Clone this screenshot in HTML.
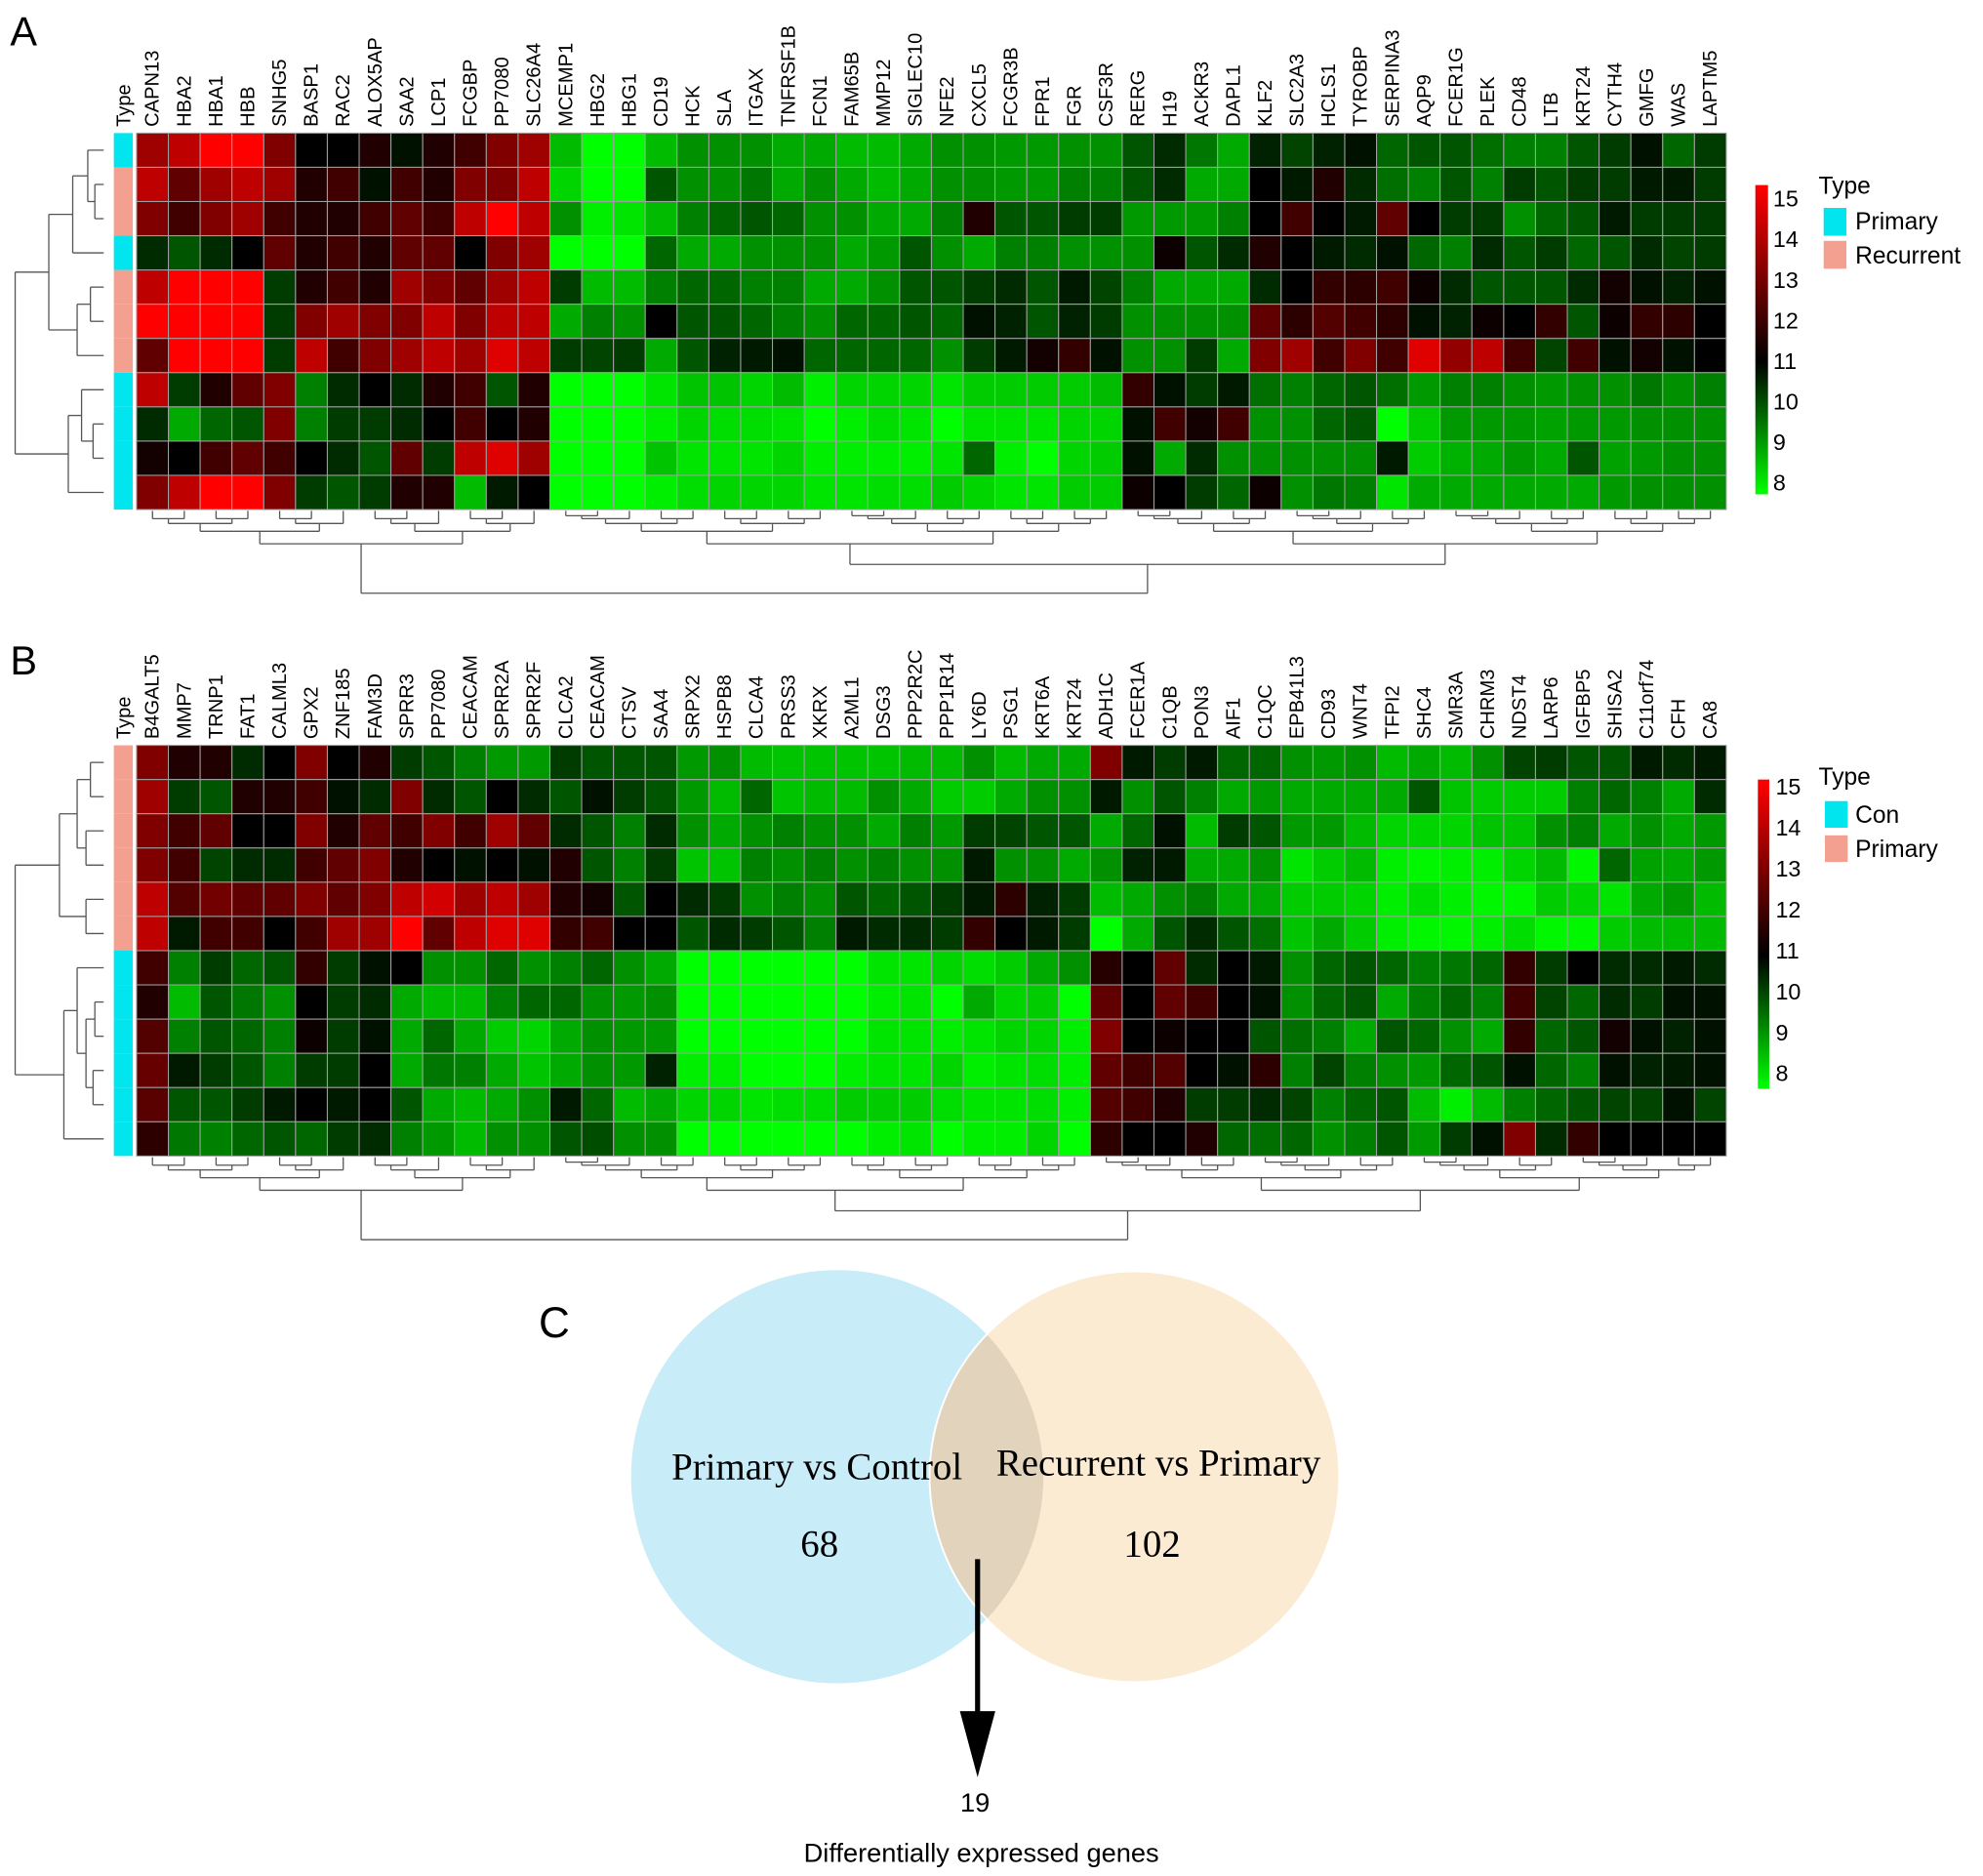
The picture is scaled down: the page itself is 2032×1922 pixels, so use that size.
<!DOCTYPE html>
<html><head><meta charset="utf-8"><style>
html,body{margin:0;padding:0;background:#fff}
svg{display:block}
text{font-family:"Liberation Sans",sans-serif}
</style></head><body>
<svg id="fig" xmlns="http://www.w3.org/2000/svg" width="2032" height="1922" viewBox="0 0 1568 1480" preserveAspectRatio="none">
<defs>
<linearGradient id="cbar" x1="0" y1="0" x2="0" y2="1">
<stop offset="0" stop-color="#ff0000"/><stop offset="0.57" stop-color="#000000"/><stop offset="1" stop-color="#00ff00"/>
</linearGradient>
<clipPath id="clipL"><circle cx="662" cy="1165" r="163"/></clipPath>
</defs>
<text x="8" y="36" font-size="32">A</text>
<text x="8" y="532" font-size="32">B</text>
<g id="gA"></g>
<g id="gB"></g>
<rect x="1388" y="146" width="10" height="244" fill="url(#cbar)"/>
<g font-size="18" id="cbA"></g>
<text x="1438" y="153" font-size="19">Type</text>
<rect x="1442" y="164" width="18" height="22" fill="#00e5ee"/>
<text x="1467" y="181" font-size="19">Primary</text>
<rect x="1442" y="190" width="18" height="22" fill="#f4a090"/>
<text x="1467" y="208" font-size="19">Recurrent</text>
<rect x="1390" y="615" width="9" height="244" fill="url(#cbar)"/>
<g font-size="18" id="cbB"></g>
<text x="1438" y="619" font-size="19">Type</text>
<rect x="1443" y="632" width="18" height="21" fill="#00e5ee"/>
<text x="1467" y="649" font-size="19">Con</text>
<rect x="1443" y="659" width="18" height="21" fill="#f4a090"/>
<text x="1467" y="676" font-size="19">Primary</text>
<text x="426" y="1055" font-size="34">C</text>
<g>
<circle cx="662" cy="1165" r="163" fill="#c8ecf8"/>
<circle cx="897" cy="1165" r="162" fill="#fcebd3"/>
<circle cx="897" cy="1165" r="162" fill="#e2d3bd" clip-path="url(#clipL)"/>
<circle cx="897" cy="1165" r="162" fill="none" stroke="#fff" stroke-width="1.5"/>
</g>
<text x="646" y="1167" font-size="30" text-anchor="middle" style="font-family:'Liberation Serif',serif">Primary vs Control</text>
<text x="916" y="1164" font-size="30" text-anchor="middle" style="font-family:'Liberation Serif',serif">Recurrent vs Primary</text>
<text x="648" y="1228" font-size="30" text-anchor="middle" style="font-family:'Liberation Serif',serif">68</text>
<text x="911" y="1228" font-size="30" text-anchor="middle" style="font-family:'Liberation Serif',serif">102</text>
<line x1="773" y1="1230" x2="773" y2="1360" stroke="#000" stroke-width="4"/>
<polygon points="759,1350 787,1350 773,1402" fill="#000"/>
<text x="771" y="1429" font-size="21" text-anchor="middle">19</text>
<text x="776" y="1469" font-size="21" text-anchor="middle">Differentially expressed genes</text>
</svg>
<script>
const genesA = ["CAPN13","HBA2","HBA1","HBB","SNHG5","BASP1","RAC2","ALOX5AP","SAA2","LCP1","FCGBP","PP7080","SLC26A4","MCEMP1","HBG2","HBG1","CD19","HCK","SLA","ITGAX","TNFRSF1B","FCN1","FAM65B","MMP12","SIGLEC10","NFE2","CXCL5","FCGR3B","FPR1","FGR","CSF3R","RERG","H19","ACKR3","DAPL1","KLF2","SLC2A3","HCLS1","TYROBP","SERPINA3","AQP9","FCER1G","PLEK","CD48","LTB","KRT24","CYTH4","GMFG","WAS","LAPTM5"];
const genesB = ["B4GALT5","MMP7","TRNP1","FAT1","CALML3","GPX2","ZNF185","FAM3D","SPRR3","PP7080","CEACAM","SPRR2A","SPRR2F","CLCA2","CEACAM","CTSV","SAA4","SRPX2","HSPB8","CLCA4","PRSS3","XKRX","A2ML1","DSG3","PPP2R2C","PPP1R14","LY6D","PSG1","KRT6A","KRT24","ADH1C","FCER1A","C1QB","PON3","AIF1","C1QC","EPB41L3","CD93","WNT4","TFPI2","SHC4","SMR3A","CHRM3","NDST4","LARP6","IGFBP5","SHISA2","C11orf74","CFH","CA8"];
const typesA = ["P","R","R","P","R","R","R","P","P","P","P"];
const typesB = ["R","R","R","R","R","R","C","C","C","C","C","C"];
const colorbarTicks = [15,14,13,12,11,10,9,8];
const valsA_left = [
[13.5,14,15,15,13,11,11,11.5,10.8,11.5,12,13,13.5],
[14,12.5,13.5,14,13.5,11.5,12,10.8,12,11.5,13,13,14],
[13,12,13,13.5,12,11.5,11.5,12,12.5,12,14,15,14],
[10.5,10,10.5,11,12.5,11.5,12,11.5,12.5,12.5,11,13,13.5],
[14,15,15,15,10.3,11.5,12,11.5,13.5,13,12.5,13.5,14],
[15,15,15,15,10.3,13,13.5,13,13,14,13,14,14],
[12.5,15,15,15,10.3,14,12,13,13.5,14,13.5,14.5,14],
[14,10.3,11.5,12.5,13,9.5,10.5,11,10.5,11.5,12,10,11.5],
[10.5,9,9.8,10,13,9.5,10.3,10.3,10.5,11,12,11,11.5],
[11.3,11,12,12.5,12,11,10.5,10,12.5,10.3,14,14.5,13.5],
[13,14,15,15,13,10.3,10,10.3,11.5,11.5,8.8,10.7,11]];
const valsA_mid = [
[8.8,8,8,8.8,9.3,9.3,9.3,9,9,8.8,8.8,9],
[8.5,8,8,10,9.3,9.3,9.6,9,9.3,9,8.8,9],
[9.3,8.2,8.3,8.8,9.5,9.8,10,9.8,9.3,9.3,9,9],
[8,8,8,9.8,9,9,9.3,9.3,9.3,9,9.2,10],
[10.3,8.8,8.8,9.5,9.8,9.8,9.5,9.5,9,9,9.3,10],
[9,9.5,9.3,11,10,10,9.8,9.5,9.3,9.8,9.8,10],
[10.3,10.2,10.3,9,10,10.6,10.7,10.8,9.8,9.8,9.8,9.8],
[8,8,8,8.3,8.7,8.7,8.5,8.8,8.2,8.5,8.5,8.5],
[8,8,8,8.2,8.5,8.4,8.4,8.3,8,8.2,8.4,8.3],
[8,8,8,8.7,8.3,8.3,8.3,8.5,8.2,8.2,8.2,8.2],
[8,8,8,8.2,8.4,8.5,8.5,8.5,8.3,8.3,8.4,8.4]];
const valsA_right = [
[9.3,9.3,9.2,9.2,9.3,9.3,10,10.5,9.6,9,10.6,10.2,10.6,10.8,9.8,10,10,9.7,9.5,9.5,10,10.3,10.8,9.8,10.3],
[9.3,9.3,9.2,9.2,9.5,9.5,10,10.5,9,9,11,10.7,11.5,10.5,9.7,9.5,10,9.5,10.3,10,10.3,10.3,10.7,10.7,10.3],
[9.5,11.5,10,10,10.3,10.3,9.2,9.2,9.2,9.5,11,12,11,10.7,12.5,11,10.3,10.3,9.3,9.8,10,10.7,10.3,10.3,10.3],
[9.3,9,9.5,9.5,9.3,9.3,9.3,11.2,10,10.5,11.5,11,10.7,10.5,10.8,9.8,9.5,10.5,10,10.3,9.8,10,10.5,10.2,10.3],
[10,10.3,10.5,10,10.7,10.2,9.5,9,9,9,10.5,11,11.8,11.7,12,11.2,10.5,10,10,10,10.5,11.3,10.8,10.6,10.8],
[9.8,10.8,10.6,10,10.6,10.3,9.3,9.3,9.3,9.3,12.5,11.7,12.3,12,11.7,10.8,10.6,11.2,11,11.8,10,11.2,11.8,11.7,11],
[9.3,10.3,10.7,11.3,11.8,10.8,9.3,9.3,10.3,9,13,13.5,12,13,12,14.5,13.3,14,12,10.2,12,10.8,11.3,10.8,11],
[8.3,8.6,8.6,8.6,8.6,8.8,11.8,10.8,10.3,10.7,9.7,9.5,9.8,10,9.7,9.2,9.5,9.5,9.3,9.2,9.3,9.3,9.6,9.3,9.5],
[8,8.3,8.3,8.3,8.5,8.5,10.8,12,11.3,12,9.3,9.3,9.8,10,8,8.6,9.2,9.2,9.2,9.1,9.2,9.2,9.3,9.3,9.3],
[8.3,9.8,8.2,8,8.5,8.6,10.8,9,10.5,9.3,9.3,9.3,9.3,9.3,10.7,8.6,8.9,9,9.2,9,10,9.1,9.2,9.3,9.3],
[8.6,8.5,8.3,8.3,8.6,8.6,11.2,11,10.3,9.8,11.2,9.3,9.6,9.5,8.3,9,9,9,9,9,9,9.2,9.3,9.3,9.3]];
const valsB_left = [
[13,11.5,11.5,10.5,11,13,11,11.5,10.3,10,9.5,9.2,9.2,10.3,10,10,10,9.2,9.3,8.8,8.7,8.7,8.7,8.7,8.8],
[13.5,10.3,10,11.5,11.5,12,10.8,10.5,13,10.5,10,11,10.5,10,10.8,10.3,10,9.2,8.8,9.8,8.7,8.8,8.8,9.3,9],
[13,12,12.5,11,11,13,11.5,12.5,12,13,12,13.5,12.5,10.5,10,9.5,10.5,9.3,9,9.3,9.5,9.3,9.3,9,9.5],
[13,12,10.2,10.5,10.5,12,12.5,13,11.5,11,10.8,11,10.8,11.5,10,9.5,10.3,8.7,8.7,9.5,9.3,9.5,9.3,9.5,9.3],
[14,12.3,12.8,12.5,12.5,13,12.5,13,14,14.3,13.5,14,13.5,11.5,11.3,10,11,10.5,10.3,9.3,9.5,9.3,10,9.8,10],
[14,10.7,12,12,11,12,13.5,13.5,15,12.5,14,14.5,14.5,11.8,12,11,11,10,10.5,10.3,10,9.5,10.7,10.5,10.5],
[12,9.5,10.3,9.8,10,11.8,10.3,10.8,11,9.3,9.3,9.8,9.3,9.5,9.8,9.3,9,8,8,8,8,8,8,8.3,8.3],
[11.5,8.8,10,9.6,9.3,11,10.3,10.5,9,8.8,8.8,9.5,9.8,9.8,9.3,9.2,9.3,8,8,8,8,8,8,8.2,8.3],
[12.3,9.5,10,9.8,9.5,11.2,10.3,10.8,9,9.8,9,8.6,8.5,9,9.3,9.2,9.2,8,8,8,8,8,8,8.3,8.3],
[12.6,10.7,10.3,10,9.5,10.3,10.3,11,9,9.6,9.5,9,8.7,9,9.3,9.2,10.6,8.2,8.2,8,8,8,8.2,8.3,8.3],
[12.4,10,10,10.3,10.7,11,10.7,11,10,9,8.8,9,9.3,10.7,9.8,8.8,9,8.5,8.5,8.3,8.4,8.4,8.6,8.6,8.6],
[11.7,9.6,9.5,9.8,10,9.8,10.3,10.5,9.5,9.2,8.8,9.3,9.3,10,10.1,9.3,9.3,8,8,8,8,8,8,8.2,8.3]];
const valsB_right = [
[8.8,9.3,8.8,9,9,13,10.7,10.3,10.7,9.8,9.8,9.3,9.2,9.3,8.8,9,8.8,9.3,10.2,10.3,10,10,10.7,10.5,10.7],
[8.6,8.6,9,9.3,9.3,10.7,9.3,10,9.5,9,9.2,9,9,9,9,10,8.7,8.6,8.6,8.6,9.5,9.8,9.5,9,10.5],
[9.2,10.3,10.2,10,10,9,9.8,10.8,8.8,10.3,10,9.2,9.2,8.8,8.5,8.5,8.5,8.7,8.7,9.3,9.5,9,9.3,9,9.2],
[9.3,10.7,9.3,9.3,9,9.3,10.6,10.7,9,9,9.3,8.3,8.6,8.8,8.2,8.1,8.2,8.2,8.5,8.8,8.1,9.8,9.1,9,9.2],
[10.3,10.7,11.7,10.6,10.3,8.8,9,9.3,9.5,9,9,8.6,8.6,8.5,8.2,8.4,8.2,8.1,8.1,8.6,8.5,8.3,9,9.2,8.8],
[10.3,11.8,11,10.7,10.3,8,9,10,10.5,10,9.7,8.7,9,8.6,8.2,8.1,8.1,8.2,8.4,8.1,8.1,8.6,8.8,8.8,8.8],
[8.5,8.4,8.6,9,9.3,11.6,11,12.5,10.5,11,10.7,9.3,9.8,10,9.8,9.5,9.6,9.8,11.8,10.3,11,10.5,10.5,10.7,10.5],
[8,9,8.5,8.6,8,12.5,11,12.5,12,11,10.8,9.3,9.8,10,9,9.5,9.8,9.5,12,10.2,9.8,10.5,10.3,10.8,10.8],
[8.2,8.3,8.5,8.5,8.2,13,11,11.2,11,11,10,9.7,9.5,9,10,9.8,9.3,9,11.8,9.8,10,11.3,10.8,10.6,10.8],
[8.5,8.2,8.3,8.4,8.2,12.5,12,12.3,11,10.8,11.7,9.5,10.2,9.5,9.3,9.2,9.8,10,10.8,9.8,9.5,10.8,10.6,10.7,10.8],
[8.4,8.3,8.3,8.4,8.2,12.3,12,11.5,10.3,10.3,10.5,10.2,9.5,9.8,10,8.8,8.2,8.8,9.5,9.8,10,10.2,10.2,10.8,10.2],
[8,8.2,8.2,8.5,8,11.7,11,11,11.5,9.8,9.7,9.8,9.3,9.5,10,9.2,10.3,10.8,13,10.5,11.8,11,11,11,11]];
const rowLinkA = [[1,2,0.1],[0,11,0.18],[12,3,0.35],[4,5,0.15],[14,6,0.3],[13,15,0.62],[8,9,0.12],[7,17,0.25],[18,10,0.4],[16,19,1.0]];
const rowLinkB = [[0,1,0.15],[2,3,0.2],[12,13,0.3],[4,5,0.2],[14,15,0.5],[7,8,0.1],[9,10,0.12],[17,18,0.2],[6,19,0.3],[20,11,0.45],[16,21,1.0]];
const colGroupsA = [[0,12],[13,30],[31,49]];
const colGroupsB = [[0,12],[13,29],[30,49]];

const NS="http://www.w3.org/2000/svg";
function mk(tag,attrs,parent){const e=document.createElementNS(NS,tag);for(const k in attrs)e.setAttribute(k,attrs[k]);parent.appendChild(e);return e;}
function col(v){if(v<11){const t=Math.max(0,Math.min(1,(11-v)/3));return `rgb(0,${Math.round(255*t)},0)`;}const t=Math.max(0,Math.min(1,(v-11)/4));return `rgb(${Math.round(255*t)},0,0)`;}
const X0=108,X1=1365,CW=(X1-X0)/50,RH=27;

function drawHeat(g,rows,genes,types,y0){
  const xs=j=>X0+j*CW;
  const ys=i=>y0+i*RH;
  rows.forEach((row,i)=>{
    row.forEach((v,j)=>{
      const r=mk('rect',{x:xs(j),y:ys(i),width:CW,height:RH,fill:col(v),stroke:'#a0a0a0','stroke-width':0.8},g);
      
      
    });
    const t=mk('rect',{x:90,y:ys(i),width:15,height:RH,fill:types[i]==='P'||types[i]==='C'?'#00e5ee':'#f4a090'},g);
    
    
  });
  genes.forEach((name,j)=>{
    const x=xs(j)+CW/2+5,y=y0-5;
    const tx=mk('text',{x:x,y:y,'font-size':15.5,transform:`rotate(-90 ${x} ${y})`},g);
    tx.textContent=name;
    
    
  });
  const tl=mk('text',{x:103,y:y0-5,'font-size':15.5,transform:`rotate(-90 103 ${y0-5})`},g);
  tl.textContent='Type';
  
  
}
function line(g,x1,y1,x2,y2){return mk('line',{x1,y1,x2,y2,stroke:'#555','stroke-width':1},g);}
function drawRowTree(g,link,n,y0){
  const pos=[],h=[];
  for(let i=0;i<n;i++){pos.push(y0+i*RH+RH/2);h.push(0);}
  const hx=v=>82-v*70;
  const dg=mk('g',{},g);
  
  
  link.forEach(([a,b,hh])=>{
    line(dg,hx(h[a]),pos[a],hx(hh),pos[a]);
    line(dg,hx(h[b]),pos[b],hx(hh),pos[b]);
    line(dg,hx(hh),pos[a],hx(hh),pos[b]);
    pos.push((pos[a]+pos[b])/2);h.push(hh);
  });
}
function drawColTree(g,groups,ybase,ytop){
  const dg=mk('g',{},g);
  
  
  const span=ytop-ybase;
  const hy=v=>ybase+v*span;
  function br(a,b,hh){line(dg,a.x,hy(a.h),a.x,hy(hh));line(dg,b.x,hy(b.h),b.x,hy(hh));line(dg,a.x,hy(hh),b.x,hy(hh));}
  function build(lo,hi,hh){
    if(lo===hi)return {x:X0+lo*CW+CW/2,h:0};
    const mid=Math.floor((lo+hi)/2);
    const a=build(lo,mid,hh*0.62),b=build(mid+1,hi,hh*0.62);
    br(a,b,hh);return {x:(a.x+b.x)/2,h:hh};
  }
  const g0=build(groups[0][0],groups[0][1],0.4);
  const g1=build(groups[1][0],groups[1][1],0.4);
  const g2=build(groups[2][0],groups[2][1],0.4);
  const r={x:(g1.x+g2.x)/2,h:0.65};br(g1,g2,0.65);
  br(g0,r,1.0);
}
function cbTicks(id,top,bot){
  const g=document.getElementById(id);
  colorbarTicks.forEach(v=>{
    const y=top+(bot-top)*(15-v)/7;
    const t=mk('text',{x:id==='cbA'?1402:1404,y:y+6},g);
    t.textContent=v;
    
    
  });
}
const rowsA=valsA_left.map((r,i)=>r.concat(valsA_mid[i],valsA_right[i]));
const rowsB=valsB_left.map((r,i)=>r.concat(valsB_right[i]));
const gA=document.getElementById('gA'),gB=document.getElementById('gB');
drawHeat(gA,rowsA,genesA,typesA,105);
drawHeat(gB,rowsB,genesB,typesB,588);
drawRowTree(gA,rowLinkA,11,105);
drawRowTree(gB,rowLinkB,12,588);
drawColTree(gA,colGroupsA,403,468);
drawColTree(gB,colGroupsB,913,978);
cbTicks('cbA',157,381);
cbTicks('cbB',621,847);
</script>
</body></html>
